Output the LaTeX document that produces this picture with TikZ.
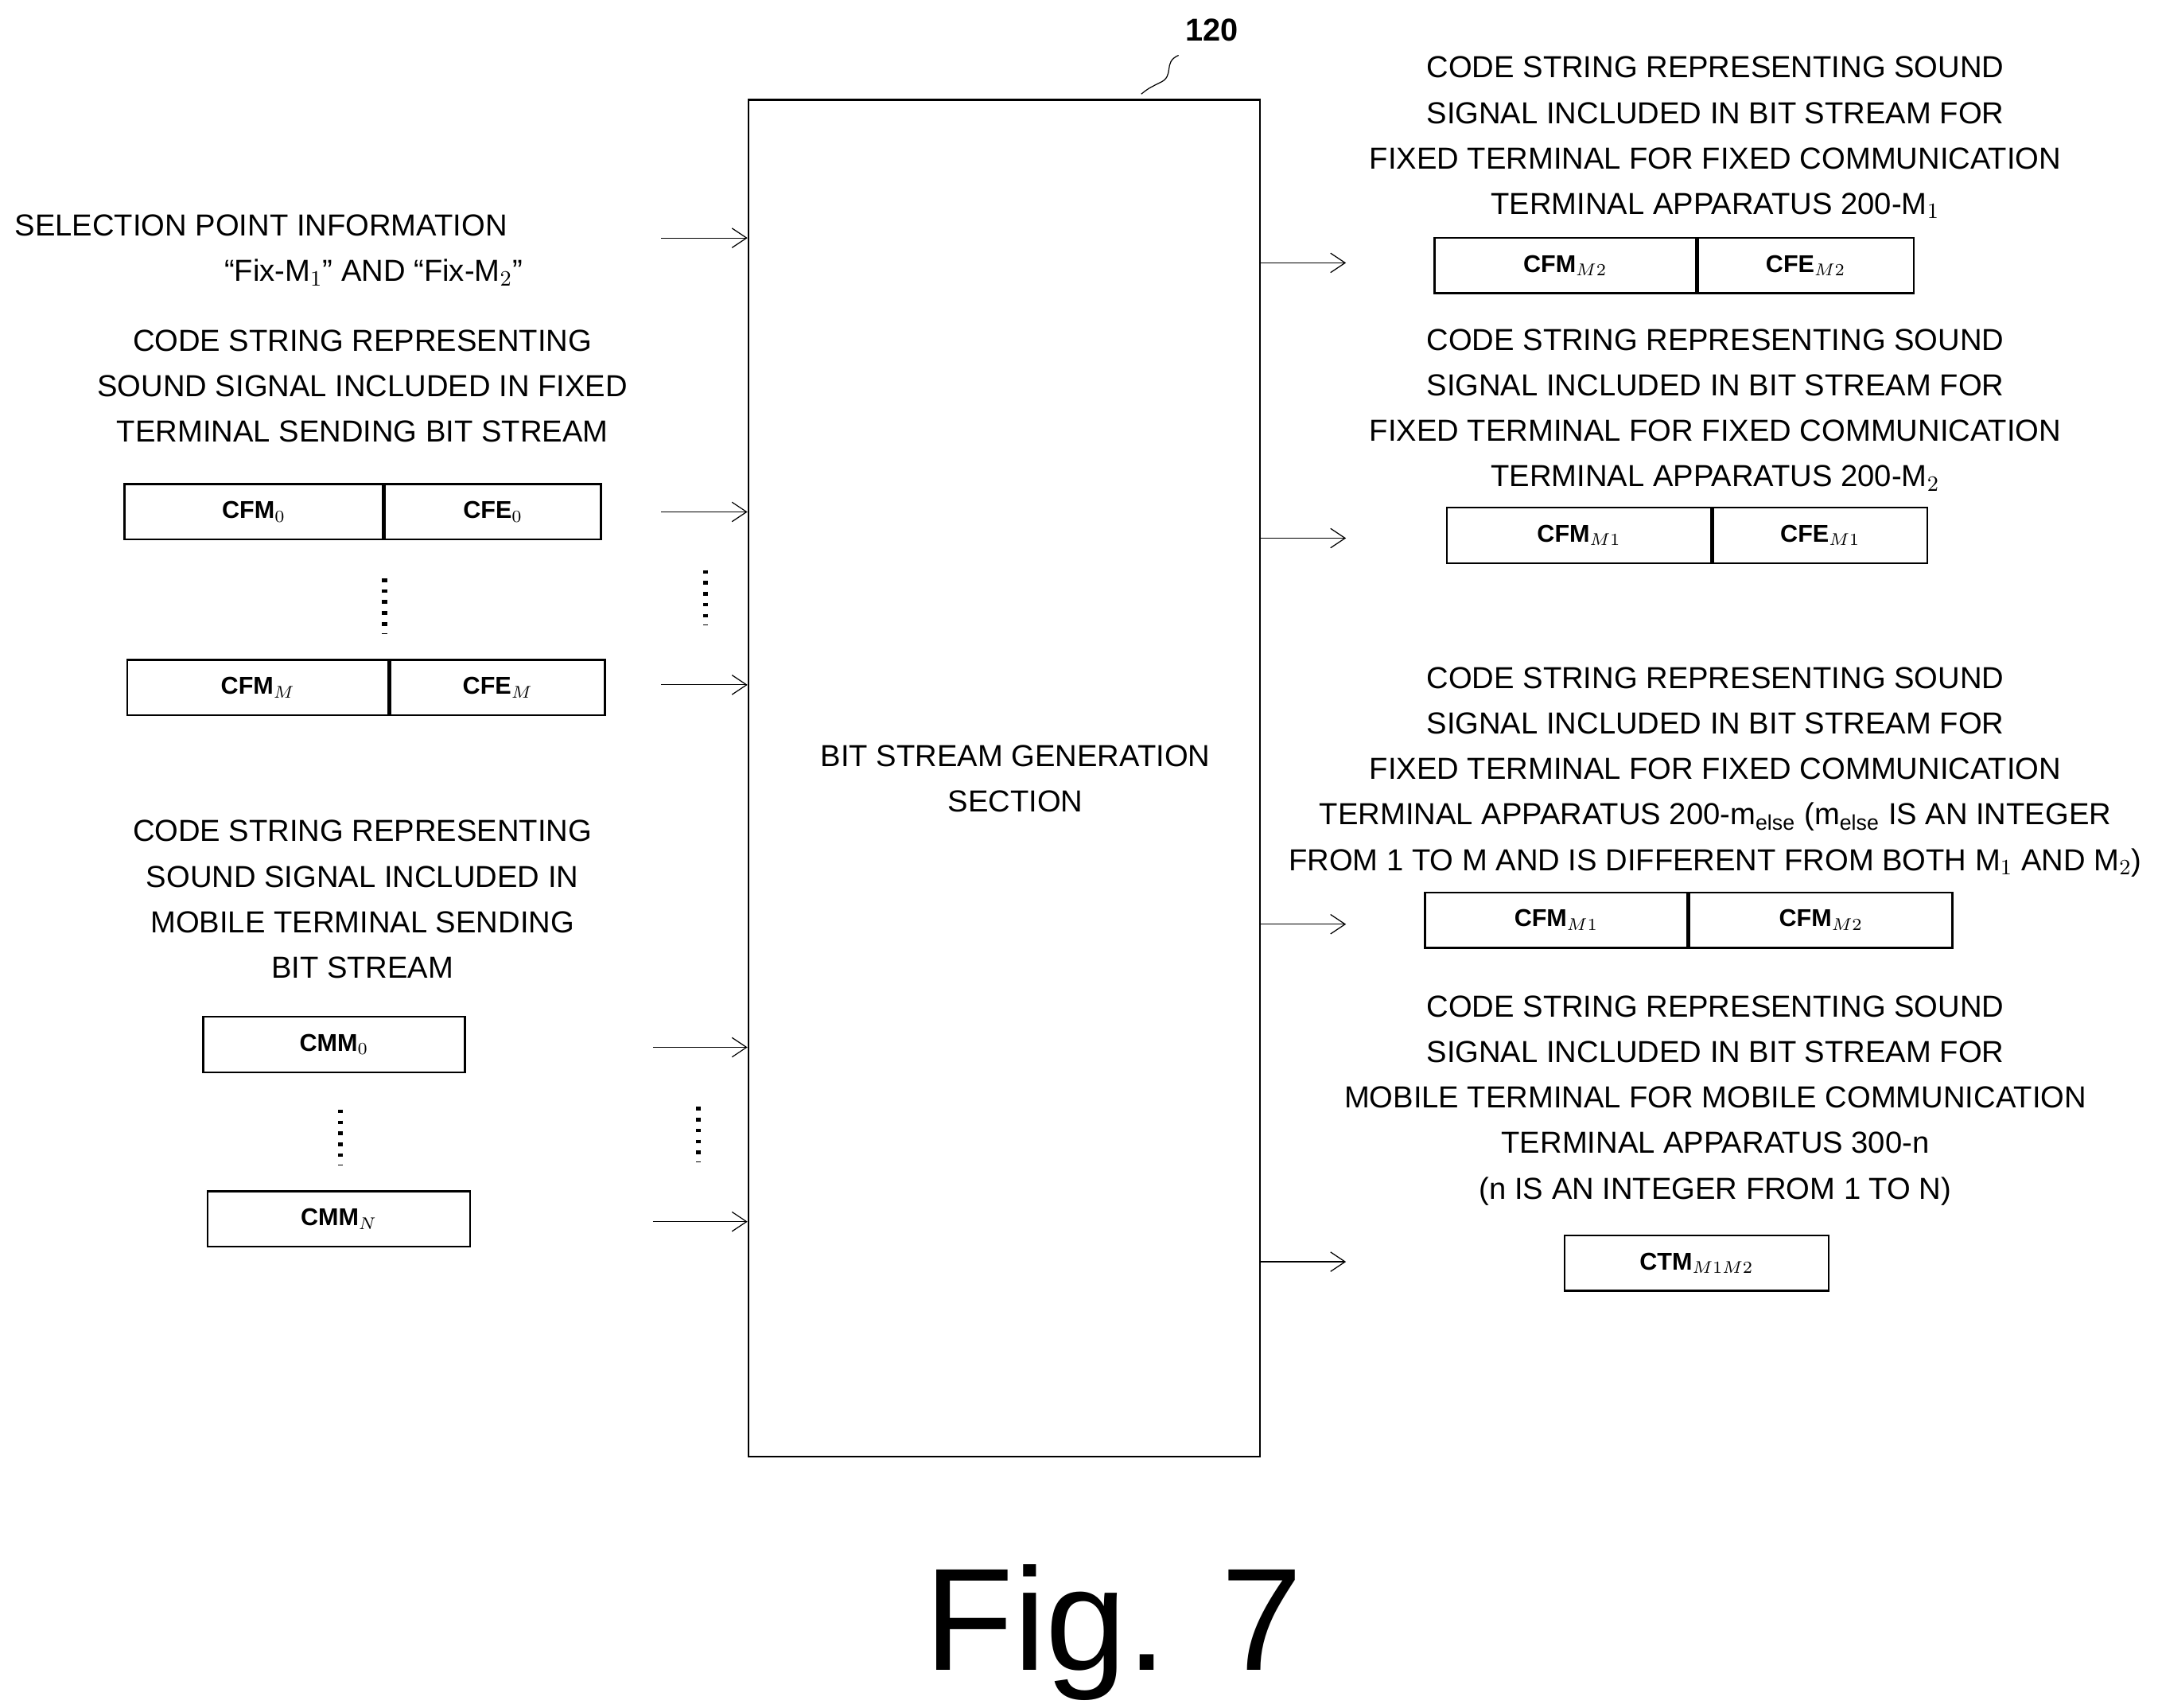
\documentclass[tikz,border=0pt]{standalone}
\usepackage{fontspec}
\setmainfont{Liberation Sans}
\usetikzlibrary{arrows.meta,positioning}
\begin{document}
\begin{tikzpicture}[x=0.02cm,y=-0.02cm,>={Straight Barb[length=6pt,width=8pt]},thick]
  \tikzset{txt/.style={align=center,font=\fontsize{12.5}{18.7}\selectfont,inner sep=0pt},
           cell/.style={draw,minimum height=0.8cm,inner sep=0pt,font=\bfseries\fontsize{10}{12}\selectfont},
           dots/.style={line width=2pt,dash pattern=on 1.5pt off 3pt}}
  \useasboundingbox (0,0) rectangle (1560,1234);

  % bit stream generation section
  \node[draw,minimum width=7.4cm,minimum height=19.62cm] at (726,562.5) (bsg) {};
  \node[txt] at (734,563) (bsgl) {BIT STREAM GENERATION\\ SECTION};
  \node[font=\bfseries\fontsize{13}{15}\selectfont] at (876,22) (ref) {120};
  \draw[thin] (852,40) .. controls (840,45) and (850,55) .. (838,60) .. controls (830,64) .. (825,68);

  % left side texts
  \node[txt,anchor=west] at (10,163) (sel) {SELECTION POINT INFORMATION};
  \node[txt] at (270,197) (selb) {``Fix-M$_1$'' AND ``Fix-M$_2$''};
  \node[txt] at (262,279) (fixin) {CODE STRING REPRESENTING\\ SOUND SIGNAL INCLUDED IN FIXED\\ TERMINAL SENDING BIT STREAM};
  \node[txt] at (262,650) (mobin) {CODE STRING REPRESENTING\\ SOUND SIGNAL INCLUDED IN\\ MOBILE TERMINAL SENDING\\ BIT STREAM};

  % left code strings
  \node[cell,minimum width=3.74cm] at (183.5,370) (cfm0) {CFM$_0$};
  \node[cell,minimum width=3.12cm,right=0pt of cfm0] (cfe0) {CFE$_0$};
  \node[cell,minimum width=3.78cm] at (186.5,497) (cfmm) {CFM$_M$};
  \node[cell,minimum width=3.1cm,right=0pt of cfmm] (cfem) {CFE$_M$};
  \node[cell,minimum width=3.78cm] at (241.5,755) (cmm0) {CMM$_0$};
  \node[cell,minimum width=3.8cm] at (245,881) (cmmn) {CMM$_N$};
  \draw[dots] (278,418) -- (278,458);
  \draw[dots] (246,802) -- (246,842);
  \draw[dots] (510,412) -- (510,452);
  \draw[dots] (505,800) -- (505,840);

  % input arrows
  \coordinate (i1) at (478,172);
  \coordinate (i2) at (478,370);
  \coordinate (i3) at (478,495);
  \coordinate (i4) at (472,757);
  \coordinate (i5) at (472,883);
  \foreach \i in {i1,i2,i3,i4,i5}
    \draw[->,thin] (\i) -- (\i -| bsg.west);

  % right side texts
  \node[txt] at (1240,99.5) (out1) {CODE STRING REPRESENTING SOUND\\ SIGNAL INCLUDED IN BIT STREAM FOR\\ FIXED TERMINAL FOR FIXED COMMUNICATION\\ TERMINAL APPARATUS 200-M$_1$};
  \node[txt] at (1240,296.5) (out2) {CODE STRING REPRESENTING SOUND\\ SIGNAL INCLUDED IN BIT STREAM FOR\\ FIXED TERMINAL FOR FIXED COMMUNICATION\\ TERMINAL APPARATUS 200-M$_2$};
  \node[txt] at (1240,558) (out3) {CODE STRING REPRESENTING SOUND\\ SIGNAL INCLUDED IN BIT STREAM FOR\\ FIXED TERMINAL FOR FIXED COMMUNICATION\\ TERMINAL APPARATUS 200-m$_\mathrm{else}$ (m$_\mathrm{else}$ IS AN INTEGER\\ FROM 1 TO M AND IS DIFFERENT FROM BOTH M$_1$ AND M$_2$)};
  \node[txt] at (1240,795.5) (out4) {CODE STRING REPRESENTING SOUND\\ SIGNAL INCLUDED IN BIT STREAM FOR\\ MOBILE TERMINAL FOR MOBILE COMMUNICATION\\ TERMINAL APPARATUS 300-n\\ (n IS AN INTEGER FROM 1 TO N)};

  % right code strings
  \node[cell,minimum width=3.78cm] at (1131.5,192) (o1a) {CFM$_{M2}$};
  \node[cell,minimum width=3.12cm,right=0pt of o1a] (o1b) {CFE$_{M2}$};
  \node[cell,minimum width=3.82cm] at (1141.5,387) (o2a) {CFM$_{M1}$};
  \node[cell,minimum width=3.1cm,right=0pt of o2a] (o2b) {CFE$_{M1}$};
  \node[cell,minimum width=3.8cm] at (1125,665) (o3a) {CFM$_{M1}$};
  \node[cell,minimum width=3.8cm,right=0pt of o3a] (o3b) {CFM$_{M2}$};
  \node[cell,minimum width=3.82cm] at (1226.5,913) (o4) {CTM$_{M1M2}$};

  % output arrows
  \coordinate (e1) at (973,190);
  \coordinate (e2) at (973,389);
  \coordinate (e3) at (973,668);
  \coordinate (e4) at (973,912);
  \foreach \e in {e1,e2,e3,e4}
    \draw[->,thin] (\e -| bsg.east) -- (\e);

  \node[font=\fontsize{60}{60}\selectfont] at (805,1180) (fig) {Fig. 7};
\end{tikzpicture}
\end{document}
